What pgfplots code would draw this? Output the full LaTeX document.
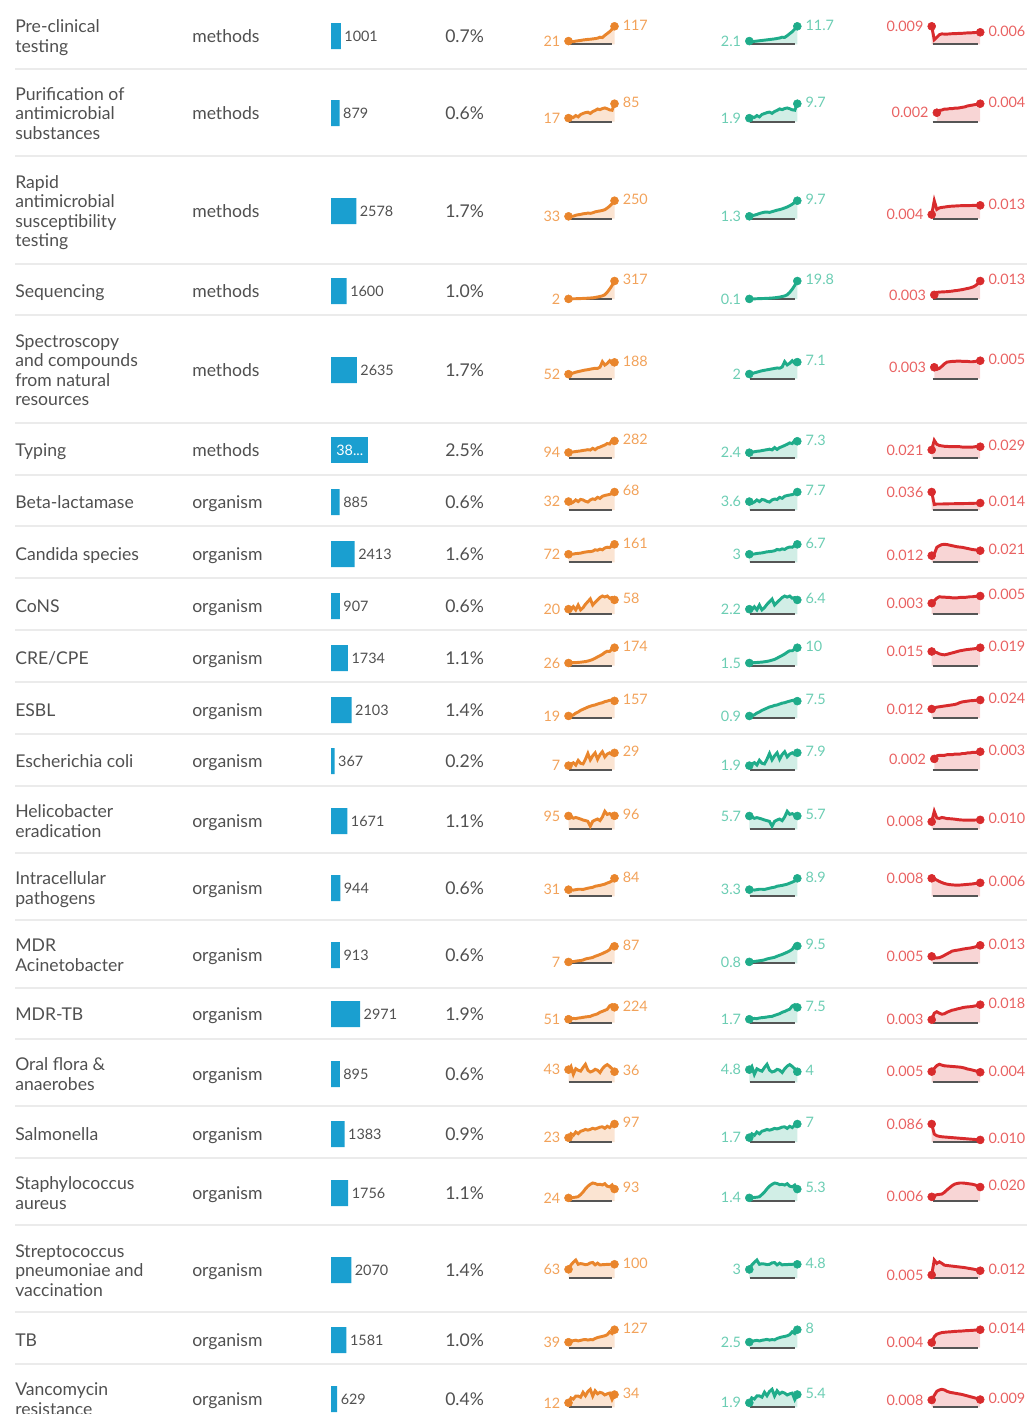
\documentclass[border=0pt]{standalone}
\usepackage{fontspec}
\setmainfont{Lato}
\usepackage{pgfplots}
\pgfplotsset{compat=1.18}
\definecolor{txt}{HTML}{505050}
\definecolor{sepc}{HTML}{EBEBEB}
\definecolor{barblue}{HTML}{1A9FD0}
\definecolor{lineo}{HTML}{E9852C}
\definecolor{fillo}{HTML}{FBE4D2}
\definecolor{labo}{HTML}{F2A25A}
\definecolor{lineg}{HTML}{1FAC8A}
\definecolor{fillg}{HTML}{D1EEE6}
\definecolor{labg}{HTML}{6BCDB3}
\definecolor{liner}{HTML}{D82B2D}
\definecolor{fillr}{HTML}{F8D5D5}
\definecolor{labr}{HTML}{E96262}
\definecolor{basec}{HTML}{555555}
\newcommand{\mainf}{\fontsize{13.2pt}{15pt}\selectfont}
\newcommand{\barf}{\fontsize{10.8pt}{12pt}\selectfont}
\newcommand{\labf}{\fontsize{10.8pt}{12pt}\selectfont}
\def\sxo{568.5}\def\sxg{749.3}\def\sxr{931.7}
\pgfplotsset{
  spark/.style={scale only axis, hide axis, height=13.5pt, xmin=0, ymin=0,
    clip=false, enlargelimits=false, anchor=south west},
  sparko/.style={width=34.5pt},
  sparkg/.style={width=36pt},
  sparkr/.style={width=36.4pt},
}
% #1 colour o/g/r, #2 baseline (px), #3 last index, #4 first index,
% #5 first value, #6 last value, #7 first label, #8 last label, #9 values
\newcommand{\spark}[9]{%
  \pgfmathsetmacro\sparkx{\csname sx#1\endcsname*0.75}%
  \pgfmathsetmacro\sparky{-(#2)*0.75}%
  \begin{axis}[spark, spark#1, at={(\sparkx pt,\sparky pt)}, xmax=#3]
    \addplot[draw=none, fill=fill#1] table[x expr=\coordindex+#4, y index=0, row sep=\\] {#9\\} \closedcycle;
    \draw[basec, line width=1.3pt] (rel axis cs:0.02,0) -- (rel axis cs:0.95,0);
    \addplot[line#1, line width=2.2pt, mark=none] table[x expr=\coordindex+#4, y index=0, row sep=\\] {#9\\};
    \addplot[only marks, mark=*, mark size=3pt, mark options={fill=line#1, draw=line#1},
      nodes near coords, point meta=explicit symbolic,
      every node near coord/.append style={anchor=east, inner sep=0pt, xshift=-6pt, font=\labf, text=lab#1}]
      coordinates {(#4,#5) [#7]};
    \addplot[only marks, mark=*, mark size=3pt, mark options={fill=line#1, draw=line#1},
      nodes near coords, point meta=explicit symbolic,
      every node near coord/.append style={anchor=west, inner sep=0pt, xshift=6pt, yshift=1pt, font=\labf, text=lab#1}]
      coordinates {(#3,#6) [#8]};
  \end{axis}}
\begin{document}
\begin{tikzpicture}
\path[use as bounding box] (0pt,0pt) rectangle (770.25pt,-1060.5pt);
\clip (0pt,0pt) rectangle (770.25pt,-1060.5pt);
\begin{scope}[x=0.75pt,y=-0.75pt]
\foreach \y in {68.5,155.7,263.5,315,423,474.5,526.3,578.3,630,681.7,734.3,786,853.3,920,987.7,1039.3,1106,1158.3,1225,1312.3,1364}
  \draw[sepc, line width=1.5pt] (15,\y) -- (1027,\y);
\begin{scope}[every node/.style={inner sep=0pt, anchor=base west, font=\mainf, text=txt}]
\foreach \b/\t in {32.75/Pre-clinical, 52.25/testing,
  100/Purification of, 119.5/antimicrobial, 139/substances,
  188.25/Rapid, 207.75/antimicrobial, 227.25/susceptibility, 246.75/testing,
  297.5/Sequencing,
  347.25/Spectroscopy, 366.75/and compounds, 386.25/from natural, 405.75/resources,
  456.5/Typing, 508.5/Beta-lactamase, 560.5/Candida species, 612.5/CoNS,
  664.5/CRE\slash CPE, 716.5/ESBL, 767.5/Escherichia coli,
  817.75/Helicobacter, 837.25/eradication,
  884.75/Intracellular, 904.25/pathogens,
  951.75/MDR, 971.25/Acinetobacter,
  1020.5/MDR-TB,
  1070.75/Oral flora \&, 1090.25/anaerobes,
  1140.5/Salmonella,
  1189.75/Staphylococcus, 1209.25/aureus,
  1257/Streptococcus, 1276.5/pneumoniae and, 1296/vaccination,
  1346.5/TB,
  1395.75/Vancomycin, 1415.25/resistance}
  \node at (15,\b) {\t};
\foreach \b/\t/\p in {42.5/methods/0.7\%, 119.5/methods/0.6\%, 217.5/methods/1.7\%,
  297.5/methods/1.0\%, 376.5/methods/1.7\%, 456.5/methods/2.5\%,
  508.5/organism/0.6\%, 560.5/organism/1.6\%, 612.5/organism/0.6\%,
  664.5/organism/1.1\%, 716.5/organism/1.4\%, 767.5/organism/0.2\%,
  827.5/organism/1.1\%, 894.5/organism/0.6\%, 961.5/organism/0.6\%,
  1020.5/organism/1.9\%, 1080.5/organism/0.6\%, 1140.5/organism/0.9\%,
  1199.5/organism/1.1\%, 1276.5/organism/1.4\%, 1346.5/organism/1.0\%,
  1405.5/organism/0.4\%}
  {\node at (192,\b) {\t}; \node at (445,\b) {\p};}
\end{scope}
\end{scope}

% bars
\begin{axis}[at={(248.25pt,0pt)}, anchor=north west, scale only axis, hide axis,
  width=73.5pt, height=1060.5pt, xmin=0, xmax=10000, ymin=0, ymax=1414,
  y dir=reverse, clip=false]
\addplot[xbar, bar width=19.5pt, bar shift=0pt, fill=barblue, draw=none,
  nodes near coords, point meta=explicit symbolic,
  every node near coord/.append style={anchor=west, inner sep=0pt, xshift=2.5pt, font=\barf, text=txt}]
  coordinates {(1001,36)[1001] (879,113)[879] (2578,211)[2578] (1600,291)[1600]
   (2635,370)[2635] (885,502)[885] (2413,554)[2413] (907,606)[907]
   (1734,658)[1734] (2103,710)[2103] (367,761)[367] (1671,821)[1671]
   (944,888)[944] (913,955)[913] (2971,1014)[2971] (895,1074)[895]
   (1383,1134)[1383] (1756,1193)[1756] (2070,1270)[2070] (1581,1340)[1581]
   (629,1399)[629]};
\addplot[xbar, bar width=19.5pt, bar shift=0pt, fill=barblue, draw=none,
  nodes near coords, point meta=explicit symbolic,
  every node near coord/.append style={anchor=east, inner sep=0pt, xshift=-3.5pt, font=\barf, text=white}]
  coordinates {(3790,450)[38...]};
\end{axis}

% row 1
\spark{o}{44.3}{19}{0}{21}{117}{21}{117}{21\\17\\17\\21\\23\\25\\28\\30\\32\\33\\35\\37\\40\\46\\44\\58\\70\\82\\98\\117}
\spark{g}{44.3}{19}{0}{2.1}{11.7}{2.1}{11.7}{2.1\\1.9\\1.9\\2.1\\2.3\\2.5\\2.7\\2.9\\3.1\\3.3\\3.5\\3.8\\4.1\\4.6\\4.5\\5.6\\6.9\\8.2\\9.9\\11.7}
\spark{r}{44.3}{19}{0}{0.009}{0.006}{0.009}{0.006}{0.009\\0.0023\\0.0035\\0.0048\\0.0052\\0.0051\\0.0051\\0.0052\\0.0053\\0.0053\\0.0054\\0.0055\\0.0055\\0.0056\\0.0057\\0.0057\\0.0058\\0.0059\\0.0059\\0.006}
% row 2
\spark{o}{121.7}{19}{0}{17}{85}{17}{85}{17\\23\\20\\29\\23\\34\\39\\43\\45\\39\\48\\53\\60\\57\\62\\65\\61\\56\\54\\85}
\spark{g}{121.7}{19}{0}{1.9}{9.7}{1.9}{9.7}{1.9\\2.6\\2.3\\3.3\\2.6\\3.9\\4.4\\4.9\\5.2\\4.5\\5.5\\6.1\\6.9\\6.5\\7.1\\7.4\\7.0\\6.4\\6.2\\9.7}
\spark{r}{121.7}{19}{2}{0.002}{0.004}{0.002}{0.004}{0.0020\\0.0025\\0.0026\\0.0028\\0.0028\\0.0029\\0.0029\\0.0030\\0.0030\\0.0031\\0.0032\\0.0033\\0.0035\\0.0036\\0.0037\\0.0038\\0.0039\\0.0040}
% row 3
\spark{o}{218.7}{19}{0}{33}{250}{33}{250}{33\\33\\35\\48\\55\\60\\68\\72\\78\\75\\82\\95\\102\\108\\115\\125\\148\\175\\210\\250}
\spark{g}{218.7}{19}{0}{1.3}{9.7}{1.3}{9.7}{1.3\\1.5\\1.9\\2.3\\2.8\\3.2\\3.5\\3.6\\3.4\\3.8\\4.2\\4.6\\4.9\\5.3\\5.8\\6.3\\7.0\\7.8\\8.8\\9.7}
\spark{r}{218.7}{19}{0}{0.004}{0.013}{0.004}{0.013}{0.004\\0.0175\\0.009\\0.0105\\0.0110\\0.0113\\0.0117\\0.0120\\0.0122\\0.0123\\0.0125\\0.0126\\0.0127\\0.0127\\0.0128\\0.0128\\0.0129\\0.0129\\0.0130\\0.013}
% row 4
\spark{o}{299}{19}{0}{2}{317}{2}{317}{2\\3\\4\\5\\6\\8\\10\\12\\15\\18\\20\\28\\35\\45\\55\\75\\120\\175\\240\\317}
\spark{g}{299}{19}{0}{0.1}{19.8}{0.1}{19.8}{0.1\\0.15\\0.2\\0.3\\0.4\\0.5\\0.6\\0.7\\0.9\\1.1\\1.3\\1.7\\2.1\\2.7\\3.4\\4.6\\7.3\\10.8\\15.0\\19.8}
\spark{r}{299}{19}{1}{0.003}{0.013}{0.003}{0.013}{0.003\\0.0048\\0.0050\\0.0051\\0.0052\\0.0053\\0.0055\\0.0057\\0.0060\\0.0062\\0.0065\\0.0068\\0.0072\\0.0076\\0.0080\\0.0086\\0.0095\\0.0110\\0.013}
% row 5
\spark{o}{378.7}{19}{0}{52}{188}{52}{188}{52\\58\\66\\75\\82\\88\\95\\100\\104\\110\\115\\120\\118\\132\\196\\157\\176\\207\\176\\188}
\spark{g}{378.7}{19}{0}{2}{7.1}{2}{7.1}{2\\2.2\\2.5\\2.8\\3.1\\3.4\\3.6\\3.8\\4.0\\4.2\\4.4\\4.6\\4.5\\5.0\\7.3\\5.9\\6.6\\7.7\\6.6\\7.1}
\spark{r}{378.7}{19}{1}{0.0033}{0.0052}{0.003}{0.005}{0.0033\\0.0027\\0.0030\\0.0036\\0.0043\\0.0048\\0.0049\\0.0050\\0.0050\\0.0051\\0.0051\\0.0050\\0.0050\\0.0050\\0.0049\\0.0049\\0.0050\\0.0051\\0.0052}
% row 6
\spark{o}{458.3}{19}{0}{94}{282}{94}{282}{94\\100\\104\\110\\115\\120\\128\\133\\140\\134\\162\\140\\170\\182\\200\\215\\240\\232\\292\\282}
\spark{g}{458.3}{19}{0}{2.4}{7.3}{2.4}{7.3}{2.4\\2.6\\2.8\\3.0\\3.1\\3.3\\3.5\\3.7\\3.9\\3.6\\4.6\\3.8\\4.6\\5.0\\5.5\\6.0\\6.6\\6.3\\7.7\\7.3}
\spark{r}{458.3}{19}{0}{0.021}{0.029}{0.021}{0.029}{0.021\\0.045\\0.035\\0.032\\0.031\\0.030\\0.030\\0.029\\0.029\\0.029\\0.029\\0.029\\0.028\\0.028\\0.028\\0.028\\0.028\\0.029\\0.029\\0.029}
% row 7
\spark{o}{510}{19}{0}{32}{68}{32}{68}{32\\25\\30\\38\\32\\40\\38\\33\\30\\38\\42\\40\\48\\44\\52\\55\\57\\59\\62\\68}
\spark{g}{510}{19}{0}{3.6}{7.7}{3.6}{7.7}{3.6\\2.9\\3.4\\4.3\\3.6\\4.5\\4.3\\3.7\\3.4\\4.3\\4.7\\4.5\\5.4\\5.0\\5.9\\6.2\\6.4\\6.6\\7.0\\7.7}
\spark{r}{510}{19}{0}{0.036}{0.014}{0.036}{0.014}{0.036\\0.011\\0.012\\0.012\\0.012\\0.0122\\0.0123\\0.0125\\0.0125\\0.0126\\0.0127\\0.0128\\0.0128\\0.013\\0.013\\0.0132\\0.0133\\0.0135\\0.0136\\0.014}
% row 8
\spark{o}{562.3}{19}{0}{72}{161}{72}{161}{72\\72\\74\\78\\80\\82\\88\\92\\95\\96\\100\\112\\108\\118\\112\\128\\135\\132\\150\\161}
\spark{g}{562.3}{19}{0}{3}{6.7}{3}{6.7}{3\\3.0\\3.1\\3.3\\3.4\\3.5\\3.7\\3.9\\4.0\\4.1\\4.3\\4.8\\4.6\\5.0\\4.8\\5.4\\5.7\\5.6\\6.3\\6.7}
\spark{r}{562.3}{19}{0}{0.012}{0.021}{0.012}{0.021}{0.012\\0.015\\0.027\\0.030\\0.032\\0.0325\\0.032\\0.031\\0.030\\0.029\\0.028\\0.0275\\0.027\\0.026\\0.025\\0.024\\0.023\\0.0225\\0.0218\\0.021}
% row 9
\spark{o}{614}{19}{0}{20}{58}{20}{58}{20\\17\\30\\17\\37\\17\\26\\40\\51\\62\\37\\48\\58\\68\\74\\70\\74\\65\\68\\58}
\spark{g}{614}{19}{0}{2.2}{6.4}{2.2}{6.4}{2.2\\1.9\\3.3\\1.9\\4.1\\1.9\\2.9\\4.4\\5.6\\6.8\\4.1\\5.3\\6.4\\7.5\\8.2\\7.7\\8.2\\7.2\\7.5\\6.4}
\spark{r}{614}{19}{0}{0.003}{0.005}{0.003}{0.005}{0.0030\\0.0037\\0.0044\\0.0048\\0.0047\\0.0047\\0.0046\\0.0046\\0.0045\\0.0045\\0.0045\\0.0046\\0.0046\\0.0046\\0.0047\\0.0048\\0.0048\\0.0049\\0.0049\\0.0050}
% row 10
\spark{o}{665.7}{19}{0}{26}{174}{26}{174}{26\\28\\30\\30\\32\\34\\37\\40\\45\\52\\60\\72\\85\\97\\110\\128\\140\\138\\162\\174}
\spark{g}{665.7}{19}{0}{1.5}{10}{1.5}{10}{1.5\\1.6\\1.7\\1.8\\1.9\\2.0\\2.2\\2.4\\2.7\\3.1\\3.5\\4.2\\5.0\\5.7\\6.5\\7.5\\8.3\\8.3\\9.3\\10}
\spark{r}{665.7}{19}{0}{0.015}{0.019}{0.015}{0.019}{0.015\\0.0145\\0.0138\\0.0125\\0.0118\\0.0115\\0.0120\\0.0128\\0.0135\\0.0142\\0.0150\\0.0157\\0.0162\\0.0167\\0.0171\\0.0174\\0.0177\\0.0180\\0.0183\\0.019}
% row 11
\spark{o}{718}{19}{0}{19}{157}{19}{157}{19\\22\\28\\45\\55\\70\\80\\90\\100\\108\\115\\120\\128\\135\\140\\150\\155\\162\\165\\157}
\spark{g}{718}{19}{0}{0.9}{7.5}{0.9}{7.5}{0.9\\1.0\\1.4\\2.2\\2.7\\3.4\\3.9\\4.4\\4.9\\5.2\\5.6\\5.8\\6.2\\6.6\\6.8\\7.2\\7.5\\7.8\\8.0\\7.5}
\spark{r}{718}{19}{0}{0.012}{0.024}{0.012}{0.024}{0.012\\0.0135\\0.0145\\0.015\\0.0155\\0.016\\0.0165\\0.017\\0.0175\\0.018\\0.019\\0.0205\\0.0215\\0.022\\0.0225\\0.023\\0.0232\\0.0235\\0.0238\\0.024}
% row 12
\spark{o}{769.7}{19}{0}{7}{29}{7}{29}{7\\10\\12\\8\\16\\11\\10\\18\\28\\17\\24\\29\\18\\26\\31\\22\\27\\29\\26\\29}
\spark{g}{769.7}{19}{0}{1.9}{7.9}{1.9}{7.9}{1.9\\2.7\\3.3\\2.2\\4.4\\3.0\\2.7\\4.9\\7.6\\4.6\\6.5\\7.9\\4.9\\7.1\\8.4\\6.0\\7.3\\7.9\\7.1\\7.9}
\spark{r}{769.7}{19}{1}{0.0018}{0.003}{0.002}{0.003}{0.0018\\0.0023\\0.0024\\0.0024\\0.0024\\0.0025\\0.0025\\0.0025\\0.0026\\0.0026\\0.0026\\0.0027\\0.0027\\0.0028\\0.0028\\0.0029\\0.0029\\0.0029\\0.0030}
% row 13
\spark{o}{829.3}{19}{0}{95}{96}{95}{96}{95\\90\\79\\84\\79\\73\\66\\62\\57\\22\\57\\66\\73\\62\\88\\128\\106\\112\\101\\96}
\spark{g}{829.3}{19}{0}{5.7}{5.7}{5.7}{5.7}{5.7\\5.4\\4.7\\5.0\\4.7\\4.4\\4.0\\3.7\\3.4\\1.3\\3.4\\4.0\\4.4\\3.7\\5.3\\7.7\\6.4\\6.7\\6.1\\5.7}
\spark{r}{829.3}{19}{0}{0.008}{0.010}{0.008}{0.010}{0.008\\0.019\\0.012\\0.0115\\0.0125\\0.012\\0.0113\\0.0112\\0.011\\0.0107\\0.0103\\0.0100\\0.0098\\0.0097\\0.0096\\0.0096\\0.0097\\0.0098\\0.0099\\0.010}
% row 14
\spark{o}{896.3}{19}{0}{31}{84}{31}{84}{31\\30\\29\\31\\33\\33\\32\\35\\38\\40\\42\\47\\49\\51\\54\\57\\62\\66\\72\\84}
\spark{g}{896.3}{19}{0}{3.3}{8.9}{3.3}{8.9}{3.3\\3.2\\3.1\\3.3\\3.5\\3.5\\3.4\\3.7\\4.0\\4.3\\4.5\\5.0\\5.2\\5.4\\5.7\\6.0\\6.5\\7.0\\7.6\\8.9}
\spark{r}{896.3}{19}{0}{0.008}{0.006}{0.008}{0.006}{0.008\\0.0078\\0.0072\\0.0066\\0.0061\\0.0057\\0.0054\\0.0052\\0.0051\\0.0050\\0.0050\\0.0050\\0.0051\\0.0052\\0.0053\\0.0054\\0.0055\\0.0057\\0.0058\\0.006}
% row 15
\spark{o}{963.3}{19}{0}{7}{87}{7}{87}{7\\8\\9\\11\\13\\14\\17\\22\\25\\27\\30\\36\\40\\45\\50\\56\\62\\70\\92\\87}
\spark{g}{963.3}{19}{0}{0.8}{9.5}{0.8}{9.5}{0.8\\0.9\\1.0\\1.2\\1.4\\1.6\\1.9\\2.4\\2.7\\3.0\\3.3\\3.9\\4.4\\4.9\\5.5\\6.1\\6.8\\7.7\\9.9\\9.5}
\spark{r}{963.3}{19}{0}{0.005}{0.013}{0.005}{0.013}{0.005\\0.0038\\0.0039\\0.0041\\0.0048\\0.0058\\0.0068\\0.0078\\0.0088\\0.0092\\0.0095\\0.0098\\0.0102\\0.0105\\0.0108\\0.011\\0.0114\\0.0118\\0.0124\\0.013}
% row 16
\spark{o}{1022.7}{19}{0}{51}{224}{51}{224}{51\\58\\63\\60\\68\\72\\78\\84\\88\\92\\108\\118\\130\\152\\165\\180\\195\\245\\262\\224}
\spark{g}{1022.7}{19}{0}{1.7}{7.5}{1.7}{7.5}{1.7\\1.95\\2.1\\2.0\\2.3\\2.5\\2.6\\2.8\\3.0\\3.1\\3.6\\4.0\\4.4\\5.1\\5.5\\6.1\\6.6\\8.2\\8.8\\7.5}
\spark{r}{1022.7}{19}{0}{0.003}{0.018}{0.003}{0.018}{0.003\\0.0095\\0.011\\0.0095\\0.0085\\0.009\\0.0105\\0.0115\\0.0125\\0.013\\0.0138\\0.0143\\0.015\\0.0155\\0.0158\\0.016\\0.0163\\0.0168\\0.0172\\0.018}
% row 17
\spark{o}{1082.3}{19}{0}{43}{36}{43}{36}{43\\54\\27\\46\\41\\38\\50\\61\\41\\35\\38\\44\\41\\33\\46\\55\\60\\54\\46\\36}
\spark{g}{1082.3}{19}{0}{4.8}{4.0}{4.8}{4}{4.8\\6.0\\3.0\\5.1\\4.6\\4.2\\5.6\\6.8\\4.6\\3.9\\4.2\\4.9\\4.6\\3.7\\5.1\\6.1\\6.7\\6.0\\5.1\\4.0}
\spark{r}{1082.3}{19}{0}{0.005}{0.0047}{0.005}{0.004}{0.005\\0.0065\\0.0078\\0.0084\\0.0080\\0.0077\\0.0076\\0.0075\\0.0074\\0.0073\\0.0072\\0.0071\\0.0069\\0.0066\\0.0062\\0.0060\\0.0057\\0.0054\\0.0050\\0.0047}
% row 18
\spark{o}{1142}{19}{0}{23}{97}{23}{97}{23\\45\\36\\54\\45\\58\\62\\68\\64\\68\\74\\70\\75\\80\\82\\74\\85\\78\\92\\97}
\spark{g}{1142}{19}{0}{1.7}{7.0}{1.7}{7}{1.7\\3.2\\2.6\\3.9\\3.2\\4.2\\4.5\\4.9\\4.6\\4.9\\5.3\\5.1\\5.4\\5.8\\5.9\\5.3\\6.1\\5.6\\6.6\\7.0}
\spark{r}{1142}{19}{0}{0.086}{0.010}{0.086}{0.010}{0.086\\0.038\\0.030\\0.027\\0.025\\0.024\\0.023\\0.022\\0.021\\0.020\\0.019\\0.018\\0.017\\0.016\\0.015\\0.014\\0.013\\0.012\\0.011\\0.010}
% row 19
\spark{o}{1201}{19}{0}{24}{93}{24}{93}{24\\26\\28\\30\\34\\50\\70\\95\\115\\130\\140\\136\\128\\130\\125\\135\\115\\110\\125\\93}
\spark{g}{1201}{19}{0}{1.4}{5.3}{1.4}{5.3}{1.4\\1.5\\1.6\\1.7\\1.9\\2.9\\4.0\\5.4\\6.6\\7.4\\8.0\\7.8\\7.3\\7.4\\7.1\\7.7\\6.6\\6.3\\7.1\\5.3}
\spark{r}{1201}{19}{0}{0.006}{0.020}{0.006}{0.020}{0.006\\0.0075\\0.009\\0.0095\\0.0100\\0.0125\\0.016\\0.019\\0.022\\0.0242\\0.0252\\0.0258\\0.0258\\0.0255\\0.025\\0.0245\\0.024\\0.023\\0.0215\\0.020}
% row 20
\spark{o}{1278}{19}{0}{63}{100}{63}{100}{63\\95\\115\\131\\100\\105\\102\\97\\100\\110\\113\\96\\108\\95\\97\\98\\99\\100\\101\\100}
\spark{g}{1278}{19}{0}{3.0}{4.8}{3}{4.8}{3.0\\4.6\\5.5\\6.3\\4.8\\5.0\\4.9\\4.7\\4.8\\5.3\\5.4\\4.6\\5.2\\4.6\\4.7\\4.7\\4.8\\4.8\\4.9\\4.8}
\spark{r}{1278}{19}{0}{0.005}{0.012}{0.005}{0.012}{0.005\\0.0295\\0.024\\0.0265\\0.024\\0.021\\0.0205\\0.020\\0.0195\\0.019\\0.0185\\0.018\\0.0175\\0.017\\0.0162\\0.0155\\0.0148\\0.014\\0.013\\0.012}
% row 21
\spark{o}{1347.7}{19}{0}{39}{127}{39}{127}{39\\44\\50\\53\\48\\52\\56\\58\\54\\57\\56\\65\\72\\76\\80\\84\\92\\112\\100\\127}
\spark{g}{1347.7}{19}{0}{2.5}{8.0}{2.5}{8}{2.5\\2.8\\3.1\\3.3\\3.0\\3.3\\3.5\\3.7\\3.4\\3.6\\3.5\\4.1\\4.5\\4.8\\5.0\\5.3\\5.8\\7.1\\6.3\\8.0}
\spark{r}{1347.7}{19}{0}{0.004}{0.014}{0.004}{0.014}{0.004\\0.0085\\0.0105\\0.0112\\0.0118\\0.012\\0.0122\\0.0123\\0.0125\\0.0127\\0.0128\\0.0129\\0.013\\0.0132\\0.0133\\0.0134\\0.0135\\0.0137\\0.0138\\0.014}
% row 22
\spark{o}{1407.3}{19}{0}{12}{34}{12}{34}{12\\25\\22\\30\\30\\27\\40\\31\\42\\48\\30\\44\\36\\40\\38\\33\\36\\38\\21\\34}
\spark{g}{1407.3}{19}{0}{1.9}{5.4}{1.9}{5.4}{1.9\\4.0\\3.5\\4.8\\4.8\\4.3\\6.4\\4.9\\6.7\\7.6\\4.8\\7.0\\5.7\\6.4\\6.0\\5.2\\5.7\\6.0\\3.3\\5.4}
\spark{r}{1407.3}{19}{0}{0.008}{0.0085}{0.008}{0.009}{0.008\\0.013\\0.0175\\0.019\\0.0197\\0.019\\0.0175\\0.0165\\0.016\\0.0155\\0.015\\0.0145\\0.014\\0.0132\\0.0125\\0.0117\\0.011\\0.0102\\0.0095\\0.0085}
\end{tikzpicture}
\end{document}
